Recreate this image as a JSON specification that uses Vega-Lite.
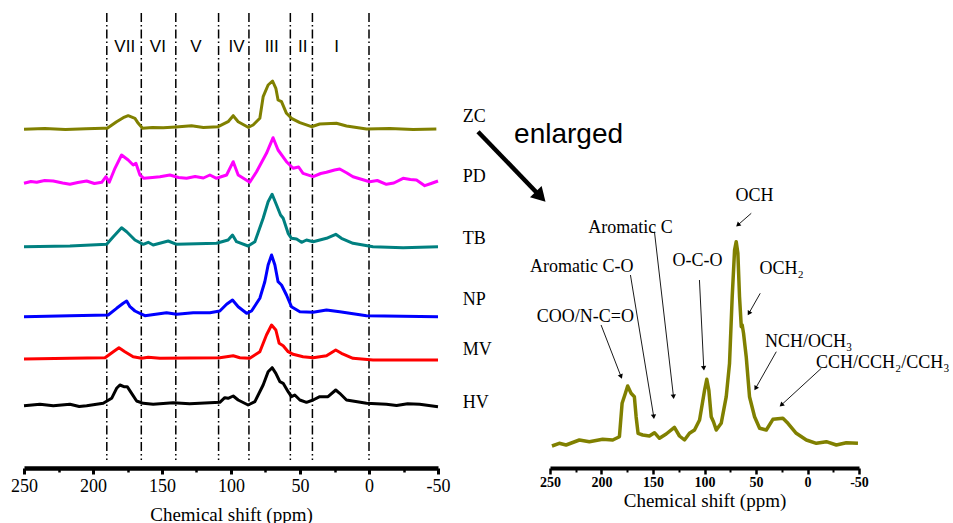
{
  "$schema": "https://vega.github.io/schema/vega-lite/v6.json",
  "background": "white",
  "padding": {"left": 10, "top": 10, "right": 0, "bottom": 0},
  "spacing": 112,
  "bounds": "flush",
  "config": {"view": {"stroke": null}},
  "datasets": {
    "left": [
      {"s":"ZC","ppm":250,"val":338.7},{"s":"ZC","ppm":235,"val":339.6},{"s":"ZC","ppm":220,"val":338.4},{"s":"ZC","ppm":205,"val":339.3},{"s":"ZC","ppm":192.6,"val":339.7},{"s":"ZC","ppm":189.7,"val":339.7},{"s":"ZC","ppm":182.9,"val":346.3},{"s":"ZC","ppm":178.1,"val":350.3},{"s":"ZC","ppm":174.5,"val":352.3},{"s":"ZC","ppm":169.6,"val":349.7},{"s":"ZC","ppm":167.2,"val":344.7},{"s":"ZC","ppm":164.1,"val":339.7},{"s":"ZC","ppm":157,"val":340.5},{"s":"ZC","ppm":149.1,"val":340.3},{"s":"ZC","ppm":140,"val":341},{"s":"ZC","ppm":128.6,"val":342.2},{"s":"ZC","ppm":120,"val":340.5},{"s":"ZC","ppm":109.3,"val":341.3},{"s":"ZC","ppm":102.1,"val":346.3},{"s":"ZC","ppm":98.4,"val":352.3},{"s":"ZC","ppm":94.8,"val":346.3},{"s":"ZC","ppm":87.6,"val":340.7},{"s":"ZC","ppm":84,"val":343},{"s":"ZC","ppm":79.1,"val":349.7},{"s":"ZC","ppm":76.7,"val":371.3},{"s":"ZC","ppm":73.1,"val":383},{"s":"ZC","ppm":69.9,"val":387},{"s":"ZC","ppm":67.5,"val":379.7},{"s":"ZC","ppm":65.9,"val":368},{"s":"ZC","ppm":63.4,"val":366.3},{"s":"ZC","ppm":59.8,"val":354.7},{"s":"ZC","ppm":56.2,"val":349.7},{"s":"ZC","ppm":50.1,"val":345.3},{"s":"ZC","ppm":41.7,"val":341.3},{"s":"ZC","ppm":35.7,"val":344},{"s":"ZC","ppm":23.6,"val":344.7},{"s":"ZC","ppm":16.3,"val":342},{"s":"ZC","ppm":1.8,"val":339},{"s":"ZC","ppm":-15,"val":339.4},{"s":"ZC","ppm":-32,"val":338.4},{"s":"ZC","ppm":-48.8,"val":338.9},
      {"s":"PD","ppm":250,"val":284.7},{"s":"PD","ppm":245,"val":286.5},{"s":"PD","ppm":240.8,"val":285.7},{"s":"PD","ppm":235,"val":287.5},{"s":"PD","ppm":228.8,"val":287},{"s":"PD","ppm":222,"val":285},{"s":"PD","ppm":216.7,"val":283.7},{"s":"PD","ppm":211,"val":285.5},{"s":"PD","ppm":204.6,"val":287},{"s":"PD","ppm":199,"val":284.5},{"s":"PD","ppm":193.7,"val":285.7},{"s":"PD","ppm":190.6,"val":291.3},{"s":"PD","ppm":188.2,"val":285.7},{"s":"PD","ppm":184.1,"val":299.7},{"s":"PD","ppm":179.3,"val":313},{"s":"PD","ppm":174.5,"val":308},{"s":"PD","ppm":170.9,"val":303},{"s":"PD","ppm":168.9,"val":304.7},{"s":"PD","ppm":166,"val":293},{"s":"PD","ppm":163.1,"val":289.7},{"s":"PD","ppm":157,"val":290.5},{"s":"PD","ppm":151.5,"val":291.3},{"s":"PD","ppm":144.3,"val":293},{"s":"PD","ppm":138,"val":290.5},{"s":"PD","ppm":132.2,"val":289.7},{"s":"PD","ppm":126,"val":291.5},{"s":"PD","ppm":120,"val":290},{"s":"PD","ppm":115.3,"val":293},{"s":"PD","ppm":110.5,"val":289.7},{"s":"PD","ppm":103.2,"val":293},{"s":"PD","ppm":98.4,"val":306.3},{"s":"PD","ppm":94.8,"val":293},{"s":"PD","ppm":86.4,"val":285.7},{"s":"PD","ppm":81.5,"val":296.3},{"s":"PD","ppm":74.3,"val":314.7},{"s":"PD","ppm":69.5,"val":330.3},{"s":"PD","ppm":65.9,"val":318},{"s":"PD","ppm":59.8,"val":306.3},{"s":"PD","ppm":55,"val":299.7},{"s":"PD","ppm":51,"val":301},{"s":"PD","ppm":47.8,"val":294.7},{"s":"PD","ppm":40.5,"val":291.3},{"s":"PD","ppm":35,"val":294.5},{"s":"PD","ppm":30.8,"val":295.7},{"s":"PD","ppm":25,"val":298},{"s":"PD","ppm":21.2,"val":299},{"s":"PD","ppm":16,"val":295},{"s":"PD","ppm":11.6,"val":291.3},{"s":"PD","ppm":5,"val":288.5},{"s":"PD","ppm":-0.5,"val":286.3},{"s":"PD","ppm":-6,"val":287.5},{"s":"PD","ppm":-12.6,"val":283.7},{"s":"PD","ppm":-18,"val":285},{"s":"PD","ppm":-24.7,"val":289.7},{"s":"PD","ppm":-30,"val":288.5},{"s":"PD","ppm":-34.4,"val":288},{"s":"PD","ppm":-40.4,"val":282.3},{"s":"PD","ppm":-45,"val":284.5},{"s":"PD","ppm":-50,"val":287},
      {"s":"TB","ppm":250,"val":221.3},{"s":"TB","ppm":216.7,"val":222},{"s":"TB","ppm":190.1,"val":223.7},{"s":"TB","ppm":185.3,"val":231.3},{"s":"TB","ppm":179.3,"val":240.3},{"s":"TB","ppm":175.6,"val":236.3},{"s":"TB","ppm":169.6,"val":228},{"s":"TB","ppm":163.6,"val":223.7},{"s":"TB","ppm":160,"val":225.7},{"s":"TB","ppm":156.4,"val":223},{"s":"TB","ppm":145.5,"val":227},{"s":"TB","ppm":139.4,"val":223.7},{"s":"TB","ppm":110.5,"val":224.7},{"s":"TB","ppm":102.1,"val":228},{"s":"TB","ppm":98.9,"val":233},{"s":"TB","ppm":96,"val":226.3},{"s":"TB","ppm":87.6,"val":222},{"s":"TB","ppm":82.7,"val":226.3},{"s":"TB","ppm":76.7,"val":249.7},{"s":"TB","ppm":73.1,"val":266.3},{"s":"TB","ppm":70.2,"val":273.7},{"s":"TB","ppm":67,"val":263},{"s":"TB","ppm":64.1,"val":253},{"s":"TB","ppm":62.2,"val":249.7},{"s":"TB","ppm":58.6,"val":234.7},{"s":"TB","ppm":56.2,"val":229.7},{"s":"TB","ppm":52.5,"val":229},{"s":"TB","ppm":48.9,"val":225.7},{"s":"TB","ppm":45.3,"val":228},{"s":"TB","ppm":40.5,"val":226.3},{"s":"TB","ppm":30.8,"val":229.7},{"s":"TB","ppm":24.1,"val":233.7},{"s":"TB","ppm":20,"val":229.7},{"s":"TB","ppm":11.6,"val":224.7},{"s":"TB","ppm":-2.9,"val":221.3},{"s":"TB","ppm":-24.7,"val":220.3},{"s":"TB","ppm":-50,"val":221.3},
      {"s":"NP","ppm":250,"val":151.3},{"s":"NP","ppm":216.7,"val":152.3},{"s":"NP","ppm":189,"val":153},{"s":"NP","ppm":182.9,"val":159.7},{"s":"NP","ppm":178.1,"val":164.7},{"s":"NP","ppm":175.6,"val":167},{"s":"NP","ppm":173.2,"val":161.3},{"s":"NP","ppm":169.6,"val":157},{"s":"NP","ppm":166,"val":154.7},{"s":"NP","ppm":162.4,"val":152.3},{"s":"NP","ppm":146.7,"val":155.3},{"s":"NP","ppm":139.4,"val":153.7},{"s":"NP","ppm":127.4,"val":155.3},{"s":"NP","ppm":115.3,"val":155.3},{"s":"NP","ppm":108.1,"val":157},{"s":"NP","ppm":103.2,"val":163.7},{"s":"NP","ppm":98.9,"val":168},{"s":"NP","ppm":94.8,"val":161.3},{"s":"NP","ppm":88.7,"val":154.7},{"s":"NP","ppm":85.1,"val":157},{"s":"NP","ppm":79.1,"val":169.7},{"s":"NP","ppm":75.5,"val":186.3},{"s":"NP","ppm":73.1,"val":203},{"s":"NP","ppm":70.6,"val":213},{"s":"NP","ppm":68.2,"val":203},{"s":"NP","ppm":65.9,"val":186.3},{"s":"NP","ppm":63.4,"val":183},{"s":"NP","ppm":59.8,"val":173},{"s":"NP","ppm":56.2,"val":161.3},{"s":"NP","ppm":50.1,"val":156.3},{"s":"NP","ppm":40.5,"val":155.7},{"s":"NP","ppm":30.8,"val":158},{"s":"NP","ppm":21.2,"val":156.3},{"s":"NP","ppm":1.8,"val":152.3},{"s":"NP","ppm":-50,"val":151.3},
      {"s":"MV","ppm":250,"val":109},{"s":"MV","ppm":216.7,"val":109.7},{"s":"MV","ppm":191.3,"val":110.3},{"s":"MV","ppm":185.3,"val":116.3},{"s":"MV","ppm":181.2,"val":120.3},{"s":"MV","ppm":176.9,"val":116.3},{"s":"MV","ppm":170.9,"val":111.3},{"s":"MV","ppm":164.8,"val":109.7},{"s":"MV","ppm":160,"val":110.7},{"s":"MV","ppm":151.5,"val":109.7},{"s":"MV","ppm":108.1,"val":110.3},{"s":"MV","ppm":98.4,"val":112.3},{"s":"MV","ppm":93.6,"val":110.3},{"s":"MV","ppm":86.4,"val":109.7},{"s":"MV","ppm":79.1,"val":116.3},{"s":"MV","ppm":74.3,"val":133},{"s":"MV","ppm":70.6,"val":143},{"s":"MV","ppm":67.5,"val":138},{"s":"MV","ppm":65.1,"val":124.7},{"s":"MV","ppm":62.2,"val":122.3},{"s":"MV","ppm":58.6,"val":116.3},{"s":"MV","ppm":55,"val":113.7},{"s":"MV","ppm":47.8,"val":111.3},{"s":"MV","ppm":40.5,"val":110.3},{"s":"MV","ppm":30.8,"val":112.3},{"s":"MV","ppm":24.1,"val":118},{"s":"MV","ppm":20,"val":114.7},{"s":"MV","ppm":11.6,"val":109.7},{"s":"MV","ppm":-2.9,"val":108},{"s":"MV","ppm":-50,"val":108},
      {"s":"HV","ppm":250,"val":62.3},{"s":"HV","ppm":238.4,"val":63.7},{"s":"HV","ppm":228.8,"val":62.3},{"s":"HV","ppm":216.7,"val":63.7},{"s":"HV","ppm":210,"val":61.5},{"s":"HV","ppm":204.6,"val":62.3},{"s":"HV","ppm":192.6,"val":64.7},{"s":"HV","ppm":186.5,"val":69.7},{"s":"HV","ppm":182.9,"val":79.7},{"s":"HV","ppm":180.5,"val":83},{"s":"HV","ppm":177.6,"val":81.3},{"s":"HV","ppm":175.2,"val":81.3},{"s":"HV","ppm":172,"val":74.7},{"s":"HV","ppm":168.4,"val":67},{"s":"HV","ppm":163.6,"val":64.7},{"s":"HV","ppm":156.4,"val":63.7},{"s":"HV","ppm":141.9,"val":65.3},{"s":"HV","ppm":130,"val":64.2},{"s":"HV","ppm":122.6,"val":64.7},{"s":"HV","ppm":108.1,"val":65.7},{"s":"HV","ppm":104.5,"val":70.3},{"s":"HV","ppm":102.1,"val":69.7},{"s":"HV","ppm":98.4,"val":72},{"s":"HV","ppm":94.8,"val":68},{"s":"HV","ppm":87.6,"val":63},{"s":"HV","ppm":82.7,"val":66.3},{"s":"HV","ppm":76.7,"val":83},{"s":"HV","ppm":73.1,"val":96.3},{"s":"HV","ppm":70.2,"val":100.3},{"s":"HV","ppm":67.5,"val":94.7},{"s":"HV","ppm":64.6,"val":86.3},{"s":"HV","ppm":62.2,"val":84.7},{"s":"HV","ppm":58.6,"val":76.3},{"s":"HV","ppm":56.2,"val":71.3},{"s":"HV","ppm":53.8,"val":73},{"s":"HV","ppm":50.1,"val":68},{"s":"HV","ppm":45.3,"val":65.7},{"s":"HV","ppm":40.5,"val":68},{"s":"HV","ppm":35.7,"val":71.3},{"s":"HV","ppm":29.7,"val":71.3},{"s":"HV","ppm":24.1,"val":78},{"s":"HV","ppm":21.2,"val":74.7},{"s":"HV","ppm":16.3,"val":68},{"s":"HV","ppm":1.8,"val":64.7},{"s":"HV","ppm":-12.6,"val":63.7},{"s":"HV","ppm":-20,"val":62.5},{"s":"HV","ppm":-28,"val":64.2},{"s":"HV","ppm":-36.7,"val":63.7},{"s":"HV","ppm":-50,"val":61.3}
    ],
    "right": [
      {"ppm":248.1,"val":22},{"ppm":241,"val":24.7},{"ppm":234.4,"val":23},{"ppm":221.5,"val":28},{"ppm":211.8,"val":26.3},{"ppm":198.9,"val":28.7},{"ppm":189.1,"val":28},{"ppm":182.6,"val":31.3},{"ppm":180,"val":64.7},{"ppm":176.8,"val":74.7},{"ppm":174.6,"val":82},{"ppm":171.3,"val":74.7},{"ppm":168.1,"val":71.3},{"ppm":166.4,"val":51.3},{"ppm":164.5,"val":34.7},{"ppm":160,"val":33},{"ppm":153.5,"val":32},{"ppm":148.6,"val":35.3},{"ppm":143.7,"val":29.7},{"ppm":137.2,"val":34},{"ppm":129.2,"val":40.7},{"ppm":124.3,"val":32},{"ppm":119.4,"val":28},{"ppm":114.6,"val":34.7},{"ppm":109.7,"val":38},{"ppm":104.8,"val":48},{"ppm":99.9,"val":78},{"ppm":97.8,"val":88.7},{"ppm":95.8,"val":78},{"ppm":93.5,"val":51.3},{"ppm":91.3,"val":46.3},{"ppm":88.6,"val":38},{"ppm":83.8,"val":44.7},{"ppm":78.9,"val":71.3},{"ppm":75.7,"val":104.7},{"ppm":73.1,"val":171.3},{"ppm":70.8,"val":218},{"ppm":69.2,"val":226.3},{"ppm":67.6,"val":214.7},{"ppm":66,"val":171.3},{"ppm":64.3,"val":141.3},{"ppm":63.4,"val":143},{"ppm":62.1,"val":134.7},{"ppm":59.5,"val":111.3},{"ppm":56.3,"val":71.3},{"ppm":51.4,"val":51.3},{"ppm":46.5,"val":39.7},{"ppm":40,"val":38},{"ppm":33.6,"val":48.7},{"ppm":23.9,"val":49.7},{"ppm":19,"val":44.7},{"ppm":10.9,"val":34.7},{"ppm":1.1,"val":28},{"ppm":-8.6,"val":24.7},{"ppm":-18.3,"val":26.3},{"ppm":-28,"val":23},{"ppm":-37.7,"val":25.3},{"ppm":-49,"val":24.7}
    ],
    "dividers": [
      {"ppm":190,"val":455,"val2":8},{"ppm":165,"val":455,"val2":8},{"ppm":140,"val":455,"val2":8},{"ppm":109,"val":455,"val2":8},{"ppm":87,"val":455,"val2":8},{"ppm":57,"val":455,"val2":8},{"ppm":41,"val":455,"val2":8},{"ppm":0,"val":455,"val2":8}
    ],
    "numerals": [
      {"ppm":177,"val":421,"t":"VII"},{"ppm":153,"val":421,"t":"VI"},{"ppm":125.5,"val":421,"t":"V"},{"ppm":96,"val":421,"t":"IV"},{"ppm":70.5,"val":421,"t":"III"},{"ppm":48,"val":421,"t":"II"},{"ppm":23.5,"val":421,"t":"I"}
    ],
    "names": [
      {"ppm":-67.9,"val":351,"t":"ZC"},{"ppm":-67.9,"val":291,"t":"PD"},{"ppm":-67.9,"val":229,"t":"TB"},{"ppm":-67.9,"val":168,"t":"NP"},{"ppm":-67.9,"val":118,"t":"MV"},{"ppm":-67.9,"val":65,"t":"HV"}
    ],
    "bigArrow": [{"ppm":-79,"val":336.3,"ppm2":-124.4,"val2":271.3}],
    "bigText": [{"ppm":-144.6,"val":325.5,"t":"enlarged"}],
    "notes": [
      {"ppm":171.9,"val":240,"t":"Aromatic C"},
      {"ppm":219.1,"val":201.3,"t":"Aromatic C-O"},
      {"ppm":106.8,"val":207.3,"t":"O-C-O"},
      {"ppm":51.4,"val":272,"t":"OCH"},
      {"ppm":25.2,"val":199,"t":"OCH₂"},
      {"ppm":215.7,"val":151.3,"t":"COO/N-C=O"},
      {"ppm":-1.1,"val":126.3,"t":"NCH/OCH₃"},
      {"ppm":-73.1,"val":104.7,"t":"CCH/CCH₂/CCH₃"}
    ],
    "leaders": [
      {"k":"OCH","ppm":54.6,"val":254.7,"ppm2":67.6,"val2":243},
      {"k":"AromC","ppm":148.6,"val":236.3,"ppm2":130.1,"val2":71.3},
      {"k":"AromCO","ppm":171.9,"val":193,"ppm2":149.3,"val2":51.3},
      {"k":"OCO","ppm":104.9,"val":188,"ppm2":100.7,"val2":99.7},
      {"k":"OCH2","ppm":45.9,"val":174.7,"ppm2":56.9,"val2":154.7},
      {"k":"COO","ppm":200.4,"val":143,"ppm2":181,"val2":91.3},
      {"k":"NCH","ppm":30.3,"val":116.3,"ppm2":50.4,"val2":79.7},
      {"k":"CCH","ppm":-13.4,"val":99.7,"ppm2":25.4,"val2":63}
    ]
  },
  "hconcat": [
    {
      "width": 414,
      "height": 458,
      "resolve": {"axis": {"x": "independent"}},
      "encoding": {
        "x": {"field":"ppm","type":"quantitative","scale":{"domain":[250,-50],"nice":false,"zero":false},"axis":null},
        "y": {"field":"val","type":"quantitative","scale":{"domain":[0,458],"nice":false,"zero":false},"axis":null}
      },
      "layer": [
        {"data":{"name":"dividers"},"mark":{"type":"rule","color":"black","strokeWidth":1.5,"strokeDash":[9,3,1.5,3]},
          "encoding":{"y2":{"field":"val2"},
            "x":{"field":"ppm","type":"quantitative","scale":{"domain":[250,-50],"nice":false,"zero":false},
              "axis":{"orient":"bottom","values":[225,175,125,75,25,-25],"labels":false,"title":null,"domain":false,"grid":false,"tickColor":"black","tickWidth":2.5,"tickSize":4}}}},
        {"data":{"name":"left"},"mark":{"type":"line","strokeWidth":3,"strokeJoin":"round"},
          "encoding":{
            "x": {"field":"ppm","type":"quantitative","scale":{"domain":[250,-50],"nice":false,"zero":false},
              "axis":{"orient":"bottom","values":[250,200,150,100,50,0,-50],"labelExpr":"'' + datum.value","title":"Chemical shift (ppm)","grid":false,"labelFlush":false,"labelOverlap":false,
                "labelFont":"Liberation Serif","labelFontSize":18,"labelColor":"black","labelPadding":3,
                "titleFont":"Liberation Serif","titleFontSize":19,"titleFontWeight":"normal","titleColor":"black","titlePadding":10,
                "domainColor":"black","domainWidth":4.5,"tickColor":"black","tickWidth":3,"tickSize":6}},
            "color":{"field":"s","type":"nominal","scale":{"domain":["ZC","PD","TB","NP","MV","HV"],"range":["#808000","#ff00ff","#008080","#0000ff","#ff0000","#000000"]},"legend":null}}},
        {"data":{"name":"numerals"},"mark":{"type":"text","font":"Liberation Sans","fontSize":17,"color":"black","align":"center","baseline":"middle"},"encoding":{"text":{"field":"t"}}},
        {"data":{"name":"names"},"mark":{"type":"text","font":"Liberation Serif","fontSize":18,"color":"black","align":"left","baseline":"middle"},"encoding":{"text":{"field":"t"}}},
        {"data":{"name":"bigArrow"},"mark":{"type":"rule","color":"black","strokeWidth":4.5},"encoding":{"x2":{"field":"ppm2"},"y2":{"field":"val2"}}},
        {"data":{"name":"bigArrow"},"mark":{"type":"point","shape":"triangle-up","filled":true,"color":"black","opacity":1,"size":260,"angle":136},"encoding":{"x":{"field":"ppm2","type":"quantitative","scale":{"domain":[250,-50],"nice":false,"zero":false},"axis":null},"y":{"field":"val2","type":"quantitative"}}},
        {"data":{"name":"bigText"},"mark":{"type":"text","font":"Liberation Sans","fontSize":28,"color":"black","align":"center","baseline":"alphabetic"},"encoding":{"text":{"field":"t"}}}
      ]
    },
    {
      "width": 309,
      "height": 458,
      "resolve": {"axis": {"x": "independent"}},
      "encoding": {
        "x": {"field":"ppm","type":"quantitative","scale":{"domain":[250,-50],"nice":false,"zero":false},"axis":null},
        "y": {"field":"val","type":"quantitative","scale":{"domain":[0,458],"nice":false,"zero":false},"axis":null}
      },
      "layer": [
        {"data":{"name":"right"},"mark":{"type":"line","strokeWidth":3.5,"color":"#808000","strokeJoin":"round"},
          "encoding":{
            "x": {"field":"ppm","type":"quantitative","scale":{"domain":[250,-50],"nice":false,"zero":false},
              "axis":{"orient":"bottom","values":[250,200,150,100,50,0,-50],"labelExpr":"'' + datum.value","title":"Chemical shift (ppm)","grid":false,"labelFlush":false,"labelOverlap":false,
                "labelFont":"Liberation Serif","labelFontSize":14,"labelFontWeight":"bold","labelColor":"black","labelPadding":1,
                "titleFont":"Liberation Serif","titleFontSize":19,"titleFontWeight":"normal","titleColor":"black","titlePadding":2,
                "domainColor":"black","domainWidth":4,"tickColor":"black","tickWidth":2.5,"tickSize":6}}}},
        {"data":{"name":"leaders"},"mark":{"type":"rule","color":"black","strokeWidth":0.9},
          "encoding":{"x2":{"field":"ppm2"},"y2":{"field":"val2"},
            "x":{"field":"ppm","type":"quantitative","scale":{"domain":[250,-50],"nice":false,"zero":false},
              "axis":{"orient":"bottom","values":[225,175,125,75,25,-25],"labels":false,"title":null,"domain":false,"grid":false,"tickColor":"black","tickWidth":2,"tickSize":4}}}},
        {"data":{"name":"leaders"},"transform":[{"filter":{"field":"k","oneOf":["AromC","AromCO","OCO"]}}],"mark":{"type":"point","shape":"triangle-up","filled":true,"color":"black","opacity":1,"size":28,"angle":174},"encoding":{"x":{"field":"ppm2","type":"quantitative","scale":{"domain":[250,-50],"nice":false,"zero":false},"axis":null},"y":{"field":"val2","type":"quantitative"}}},
        {"data":{"name":"leaders"},"transform":[{"filter":{"field":"k","oneOf":["COO"]}}],"mark":{"type":"point","shape":"triangle-up","filled":true,"color":"black","opacity":1,"size":28,"angle":159},"encoding":{"x":{"field":"ppm2","type":"quantitative","scale":{"domain":[250,-50],"nice":false,"zero":false},"axis":null},"y":{"field":"val2","type":"quantitative"}}},
        {"data":{"name":"leaders"},"transform":[{"filter":{"field":"k","oneOf":["OCH2","NCH"]}}],"mark":{"type":"point","shape":"triangle-up","filled":true,"color":"black","opacity":1,"size":28,"angle":210},"encoding":{"x":{"field":"ppm2","type":"quantitative","scale":{"domain":[250,-50],"nice":false,"zero":false},"axis":null},"y":{"field":"val2","type":"quantitative"}}},
        {"data":{"name":"leaders"},"transform":[{"filter":{"field":"k","oneOf":["OCH","CCH"]}}],"mark":{"type":"point","shape":"triangle-up","filled":true,"color":"black","opacity":1,"size":28,"angle":228},"encoding":{"x":{"field":"ppm2","type":"quantitative","scale":{"domain":[250,-50],"nice":false,"zero":false},"axis":null},"y":{"field":"val2","type":"quantitative"}}},
        {"data":{"name":"notes"},"mark":{"type":"text","font":"Liberation Serif","fontSize":18,"color":"black","align":"center","baseline":"middle"},"encoding":{"text":{"field":"t"}}}
      ]
    }
  ]
}
